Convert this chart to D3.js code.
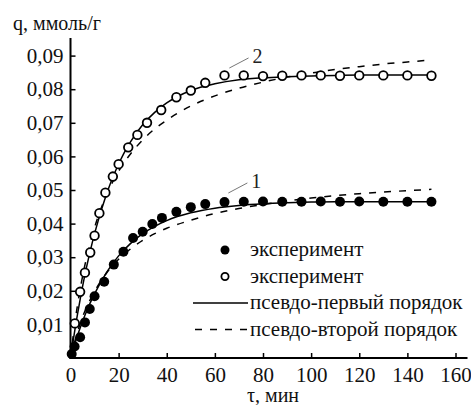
<!DOCTYPE html>
<html>
<head>
<meta charset="utf-8">
<script src="https://cdn.jsdelivr.net/npm/d3@7"></script>
<style>
  svg#chart text { font-family: "Liberation Serif", "Times New Roman", serif !important; }
</style>
</head>
<body style="margin:0">
<svg id="chart" width="471" height="405"></svg>
<script>
// --- data ---
const xTicks = [0, 20, 40, 60, 80, 100, 120, 140, 160];
const yTicks = [0.01, 0.02, 0.03, 0.04, 0.05, 0.06, 0.07, 0.08, 0.09];

// series 1 (filled circles)
const tExp1 = [0.5, 1.7, 4, 6, 8, 10, 14, 18, 22, 26, 30, 34, 38, 44, 50, 56, 64, 72, 80, 88, 96, 104, 112, 120, 130, 140, 150];
const qExp1 = [0.0012, 0.0034, 0.0062, 0.0106, 0.0146, 0.0184, 0.0227, 0.0278, 0.0316, 0.0357, 0.0376, 0.0399, 0.0417, 0.0435, 0.0449, 0.0458, 0.0464, 0.0465, 0.0466, 0.0465, 0.0465, 0.0466, 0.0465, 0.0466, 0.0465, 0.0465, 0.0465];

// series 2 (open circles)
const tExp2 = [1.8, 4, 6, 8.2, 10, 12, 14.5, 17.6, 20, 24, 27.8, 31.8, 37.7, 44, 50, 56, 64, 72, 80, 88, 96, 104, 112, 120, 130, 140, 150];
const qExp2 = [0.0103, 0.0197, 0.0254, 0.0314, 0.0364, 0.0431, 0.0492, 0.054, 0.0577, 0.0627, 0.0664, 0.070, 0.0738, 0.0776, 0.0796, 0.0819, 0.0841, 0.0841, 0.0839, 0.0840, 0.0841, 0.0841, 0.0840, 0.0841, 0.0841, 0.0841, 0.0840];

// model curves
const tFit = [0, 2, 4, 6, 8, 10, 15, 20, 25, 30, 35, 40, 50, 60, 70, 80, 90, 100, 110, 120, 130, 140, 150];
const qFirst1 = [0, 0.0047, 0.0089, 0.0127, 0.0161, 0.0191, 0.0255, 0.0304, 0.0341, 0.0370, 0.0392, 0.0409, 0.0432, 0.0446, 0.0454, 0.0459, 0.0462, 0.0464, 0.0465, 0.0465, 0.0465, 0.0465, 0.0465];
const qSecond1 = [0, 0.0055, 0.0102, 0.0140, 0.0171, 0.0198, 0.0253, 0.0294, 0.0325, 0.0350, 0.0370, 0.0386, 0.0410, 0.0430, 0.0445, 0.0457, 0.0467, 0.0476, 0.0483, 0.0489, 0.0494, 0.0498, 0.0502];
const qFirst2 = [0, 0.0092, 0.0174, 0.0248, 0.0312, 0.0370, 0.0489, 0.0578, 0.0644, 0.0694, 0.0731, 0.0759, 0.0796, 0.0816, 0.0828, 0.0834, 0.0837, 0.0839, 0.0841, 0.0842, 0.0842, 0.0842, 0.0842];
const qSecond2 = [0, 0.0114, 0.0204, 0.0277, 0.0337, 0.0388, 0.0486, 0.0556, 0.0608, 0.0649, 0.0682, 0.0708, 0.0750, 0.0780, 0.0803, 0.0821, 0.0836, 0.0848, 0.0859, 0.0867, 0.0875, 0.0881, 0.0887];

// curve labels "1", "2" with their leader lines (data coords)
const curveLabels = ["1", "2"];
const leaderFrom = [[65.6, 0.0491], [66, 0.0863]];
const leaderTo = [[73.5, 0.0521], [74, 0.0893]];

const legendLabels = ["эксперимент", "эксперимент", "псевдо-первый порядок", "псевдо-второй порядок"];

const FONT = "'Liberation Serif', 'Times New Roman', serif";

// --- setup ---
const svg = d3.select("#chart");
const x = d3.scaleLinear().domain([0, 160]).range([70.5, 455.5]);
const y = d3.scaleLinear().domain([0, 0.09]).range([358, 55.6]);

// --- axes ---
const gx = svg.append("g").attr("transform", `translate(0,${y(0)})`)
    .call(d3.axisBottom(x).tickValues(xTicks).tickSize(-5).tickPadding(9).tickSizeOuter(0));
gx.select(".domain").remove();
gx.append("line").attr("x1", x(0) - 1).attr("x2", x(160) + 12).attr("stroke", "#000").attr("stroke-width", 2);

const gy = svg.append("g").attr("transform", `translate(${x(0)},0)`)
    .call(d3.axisLeft(y).tickValues(yTicks).tickSize(-5).tickPadding(7).tickSizeOuter(0)
        .tickFormat(d => d3.format(".2f")(d).replace(".", ",")));
gy.select(".domain").remove();
gy.append("line").attr("y1", y(0) + 1).attr("y2", 38).attr("stroke", "#000").attr("stroke-width", 2);

gx.attr("font-family", FONT).attr("font-size", 21);
gy.attr("font-family", FONT).attr("font-size", 21);
svg.selectAll(".tick line").attr("stroke", "#000").attr("stroke-width", 1.5);
svg.selectAll(".tick text").attr("fill", "#111");

svg.append("text").attr("x", 13).attr("y", 30).attr("font-size", 20).attr("fill", "#111").text("q, ммоль/г");
svg.append("text").attr("x", 273).attr("y", 402).attr("text-anchor", "middle").attr("font-size", 20)
    .attr("fill", "#111").text("τ, мин");

// --- model curves ---
const line = d3.line().x(d => x(d[0])).y(d => y(d[1])).curve(d3.curveMonotoneX);
const curves = [
    {q: qSecond1, dash: "7,8"}, {q: qSecond2, dash: "7,8"},
    {q: qFirst1, dash: null}, {q: qFirst2, dash: null}
];
svg.selectAll("path.fit")
    .data(curves)
    .enter()
    .append("path")
    .attr("class", "fit")
    .attr("d", c => line(tFit.map((t, i) => [t, c.q[i]])))
    .attr("fill", "none")
    .attr("stroke", "#000")
    .attr("stroke-width", 1.5)
    .attr("stroke-dasharray", c => c.dash);

// --- experimental points ---
svg.selectAll("circle.s1")
    .data(tExp1.map((t, i) => [t, qExp1[i]]))
    .enter()
    .append("circle")
    .attr("class", "s1")
    .attr("cx", d => x(d[0]))
    .attr("cy", d => y(d[1]))
    .attr("r", 5)
    .attr("fill", "#000");

svg.selectAll("circle.s2")
    .data(tExp2.map((t, i) => [t, qExp2[i]]))
    .enter()
    .append("circle")
    .attr("class", "s2")
    .attr("cx", d => x(d[0]))
    .attr("cy", d => y(d[1]))
    .attr("r", 4.3)
    .attr("fill", "#fff")
    .attr("stroke", "#000")
    .attr("stroke-width", 1.8);

// --- curve labels ---
curveLabels.forEach((lab, i) => {
    svg.append("line")
        .attr("x1", x(leaderFrom[i][0])).attr("y1", y(leaderFrom[i][1]))
        .attr("x2", x(leaderTo[i][0])).attr("y2", y(leaderTo[i][1]))
        .attr("stroke", "#777").attr("stroke-width", 1);
    svg.append("text")
        .attr("x", x(leaderTo[i][0]) + 4)
        .attr("y", y(leaderTo[i][1]) + 5)
        .attr("font-size", 20).attr("fill", "#222")
        .text(lab);
});

// --- legend ---
const legend = svg.append("g").attr("transform", "translate(0,256)");
const rowH = 26.5;
legend.selectAll("text")
    .data(legendLabels)
    .enter()
    .append("text")
    .attr("x", 250)
    .attr("y", (d, i) => i * rowH)
    .attr("font-size", 21)
    .attr("fill", "#111")
    .text(d => d);
legend.append("circle").attr("cx", 225).attr("cy", -6).attr("r", 4.5).attr("fill", "#000");
legend.append("circle").attr("cx", 225).attr("cy", rowH - 6).attr("r", 3.6)
    .attr("fill", "#fff").attr("stroke", "#000").attr("stroke-width", 1.8);
legend.append("line").attr("x1", 193).attr("x2", 248).attr("y1", 2 * rowH - 6).attr("y2", 2 * rowH - 6)
    .attr("stroke", "#000").attr("stroke-width", 1.5);
legend.append("line").attr("x1", 195).attr("x2", 248).attr("y1", 3 * rowH - 6).attr("y2", 3 * rowH - 6)
    .attr("stroke", "#000").attr("stroke-width", 1.5).attr("stroke-dasharray", "7,8");

// serif face on every text, as an attribute and as an important inline style
svg.selectAll("text")
    .attr("font-family", FONT)
    .style("font-family", FONT, "important");
</script>
</body>
</html>
